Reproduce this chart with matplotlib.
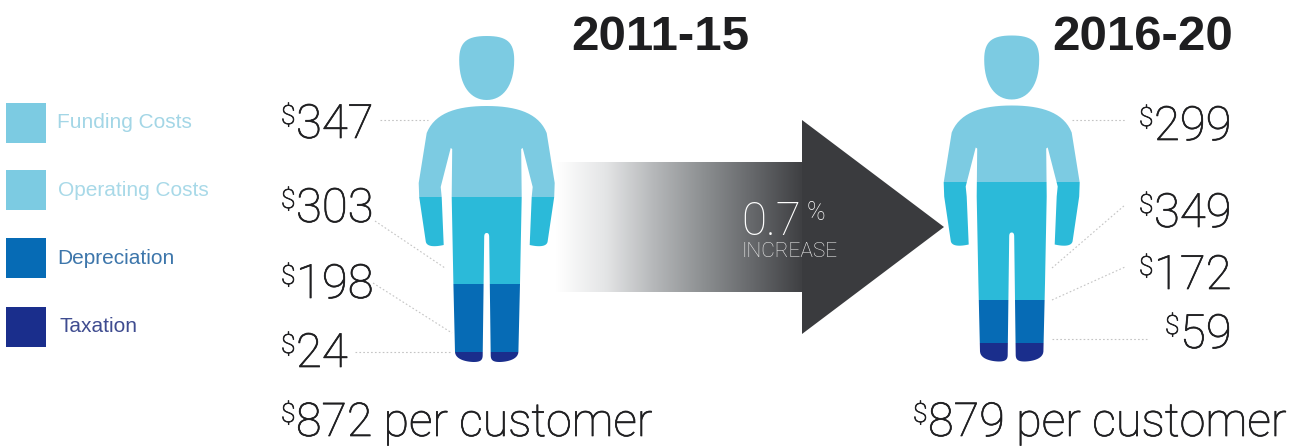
import numpy as np
import matplotlib
matplotlib.use("Agg")
import matplotlib.pyplot as plt
import matplotlib.patheffects as pe
from matplotlib.path import Path
from matplotlib.patches import PathPatch, Rectangle, Polygon
from matplotlib.colors import LinearSegmentedColormap

# Cost components, dollars per customer
categories = ["Funding Costs", "Operating Costs", "Depreciation", "Taxation"]
period_labels = ["2011-15", "2016-20"]
costs_2011_15 = [347, 303, 198, 24]
costs_2016_20 = [299, 349, 172, 59]
change_label = "0.7"

# Where each cost band starts and ends on the figure's body (pixels from the top)
band_edges_left = [30, 197, 284, 352, 370]
band_edges_right = [30, 182, 300, 343, 370]

band_colors = ["#7CCBE2", "#2BBAD9", "#066BB5", "#1A2E8C"]
swatch_colors = ["#7CCBE2", "#7CCBE2", "#066BB5", "#1A2E8C"]
legend_text_colors = ["#A3D6E6", "#A8D9E8", "#3D76AB", "#3F4C90"]
INK = "#1F1F21"
ARROW = "#3A3B3E"
LIGHT = "Roboto"
REGULAR = "Liberation Sans"

fig = plt.figure(figsize=(13, 4.46), dpi=100)
ax = fig.add_axes([0, 0, 1, 1])
ax.axis("off")


def bez(p0, p1, p2, p3, n=16):
    """Points along a cubic curve, leaving out its start."""
    t = np.linspace(0, 1, n + 1)[1:, None]
    p0, p1, p2, p3 = map(np.asarray, (p0, p1, p2, p3))
    return (1 - t) ** 3 * p0 + 3 * (1 - t) ** 2 * t * p1 + 3 * (1 - t) * t ** 2 * p2 + t ** 3 * p3


# Right half of the silhouette as (dx, y); the left half is its mirror image
body_half = np.vstack([
    [(0, 106)],
    bez((0, 106), (30, 106), (52, 113), (60, 133)),
    [(68, 183), (67.5, 197), (61, 241)],
    bez((61, 241), (60.5, 247), (52, 247), (43, 245)),
    [(45, 197), (46, 187), (36, 148), (34.5, 149), (35, 197), (33.3, 284), (31.7, 352)],
    bez((31.7, 352), (31, 362), (13, 362), (13, 362)),
    bez((13, 362), (6, 362), (4, 360), (4, 355)),
    [(2.5, 237)],
    bez((2.5, 237), (2.5, 234), (1.5, 233), (0.01, 233)),
])
head_half = np.vstack([
    [(0, 36)],
    bez((0, 36), (20, 36), (27.5, 42), (27.5, 60)),
    bez((27.5, 60), (27.5, 86), (16, 100), (0.01, 100)),
])


def mirrored(points, cx, dy):
    right = np.column_stack([cx + points[:, 0], points[:, 1] + dy])
    left = np.column_stack([cx - points[::-1, 0], points[::-1, 1] + dy])
    return np.vstack([right, left])


def draw_person(cx, dy, edges):
    parts = [mirrored(head_half, cx, dy), mirrored(body_half, cx, dy)]
    outline = Path.make_compound_path(*[Path(np.vstack([p, p[:1]]), closed=True) for p in parts])
    clip = PathPatch(outline, transform=ax.transData, fc="none", ec="none")
    ax.add_patch(clip)
    heights = np.diff(edges)
    bars = ax.bar([cx] * 4, heights, bottom=edges[:-1], width=150,
                  color=band_colors, linewidth=0, zorder=3)
    for bar in bars:
        bar.set_clip_path(clip)


draw_person(486.7, 0, band_edges_left)
draw_person(1011.7, -0.5, band_edges_right)

# Arrow between the two periods: a fading shaft and a solid head
fade = LinearSegmentedColormap.from_list(
    "fade", ["#FFFFFF", "#E4E5E6", "#B5B7B9", "#8C8F91", "#66686B", "#3F4043"])
ax.imshow(np.linspace(0, 1, 256)[None, :], cmap=fade, aspect="auto",
          extent=(556, 802, 292, 162), zorder=1, interpolation="bilinear")
ax.add_patch(Polygon([(802, 120), (944, 227), (802, 334)], closed=True, fc=ARROW, ec="none", zorder=2))

ax.text(741, 235, change_label, family=LIGHT, weight="light", fontsize=33, color="white", zorder=5)
ax.text(807, 220, "%", family=LIGHT, weight="light", fontsize=18, color="white", zorder=5)
ax.text(742, 257, "INCREASE", family=LIGHT, weight="light", fontsize=15, color="#F0F0F0", zorder=5)

# Period titles
ax.text(571, 50, period_labels[0], family=REGULAR, weight="bold", fontsize=35.5, color="#1E1E20")
ax.text(1052, 50, period_labels[1], family=REGULAR, weight="bold", fontsize=35.5, color="#1E1E20")

# A hairline stroke gives the light face a little more body
thicken = [pe.withStroke(linewidth=0.5, foreground=INK)]


def money(x, baseline, value, size=34, dollar_size=19, suffix=""):
    ax.text(x, baseline - 14, "$", family=LIGHT, weight="light", fontsize=dollar_size,
            color=INK, zorder=5, path_effects=thicken)
    ax.text(x + 15, baseline, f"{value}{suffix}", family=LIGHT, weight="light", fontsize=size,
            color=INK, zorder=5, path_effects=thicken)


for value, base in zip(costs_2011_15, [138, 222, 298, 367]):
    money(281, base, value)
for value, base, x in zip(costs_2016_20, [140, 227, 289, 348], [1139, 1139, 1139, 1165]):
    money(x, base, value)

money(281, 436, sum(costs_2011_15), size=33.5, suffix=" per customer")
money(913, 436, sum(costs_2016_20), size=33.7, suffix=" per customer")

# Dotted leaders from the amounts to the body
leaders = [
    ((380, 120), (428, 120)), ((375, 221), (445, 268)), ((373, 283), (452, 333)), ((355, 352), (450, 352)),
    ((1072, 120), (1125, 120)), ((1052, 268), (1125, 205)), ((1052, 300), (1125, 267)), ((1052, 339), (1147, 339)),
]
for (x0, y0), (x1, y1) in leaders:
    ax.plot([x0, x1], [y0, y1], color="#C4C4C4", lw=0.8, ls=(0, (1.5, 2)), zorder=0)

# Legend
swatch_tops = [103, 170, 238, 307]
text_rows = [122, 190, 258, 326]
text_x = [57, 58, 57, 59]
for name, top, row, x, sw, tc in zip(categories, swatch_tops, text_rows, text_x, swatch_colors, legend_text_colors):
    ax.add_patch(Rectangle((6, top), 40, 40, fc=sw, ec="none"))
    ax.text(x, row, name, family=REGULAR, fontsize=15, color=tc, va="center")

ax.set_xlim(0, 1300)
ax.set_ylim(446, 0)
fig.savefig("out.png", dpi=100)
